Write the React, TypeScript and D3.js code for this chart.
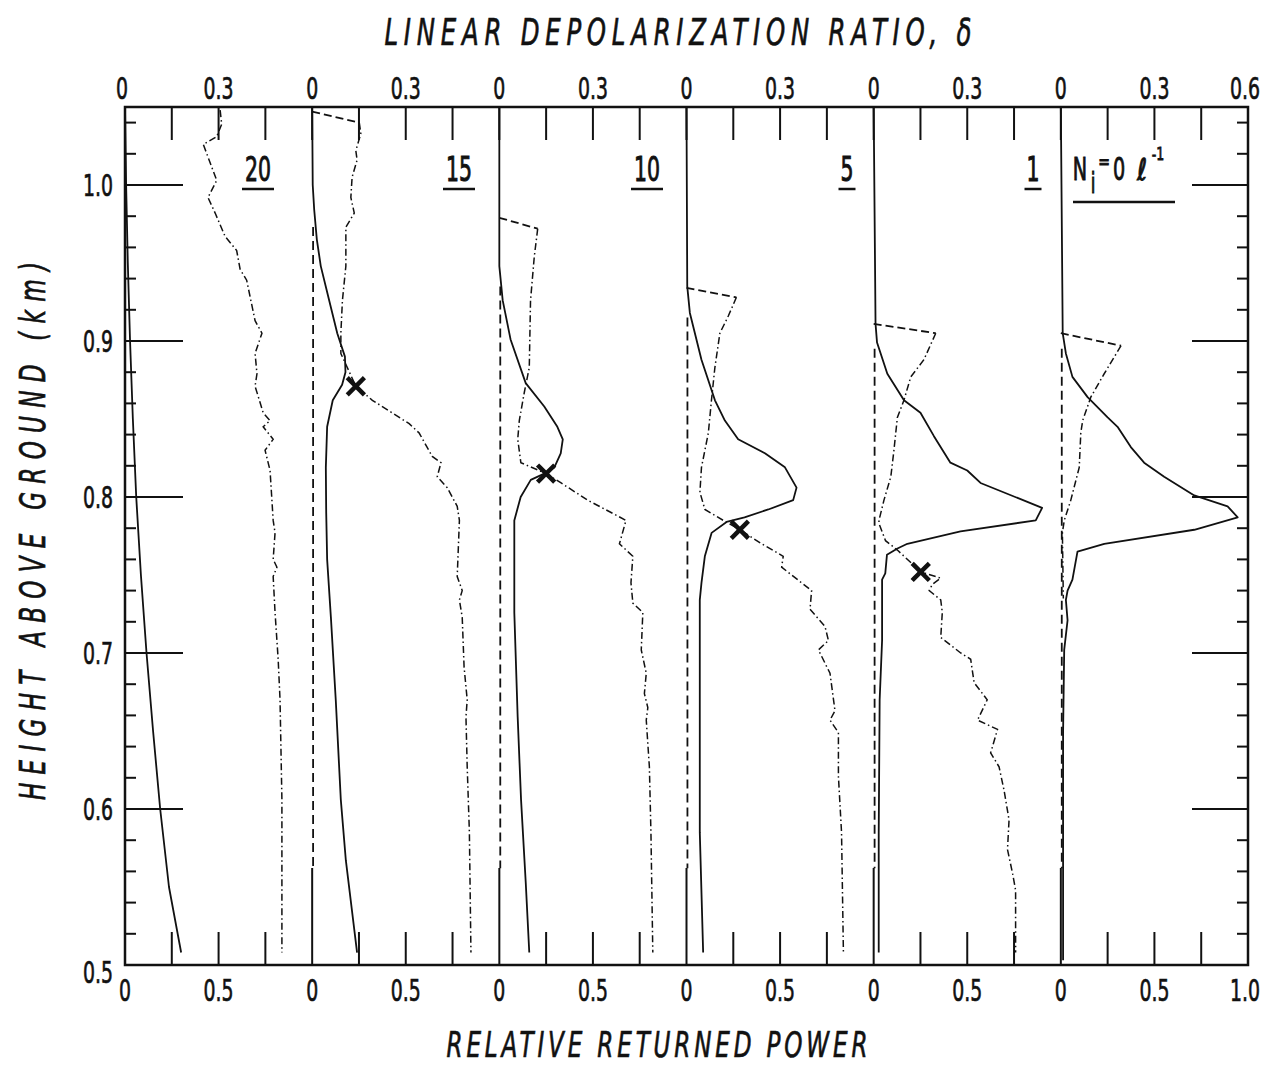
import React from "react";
import * as d3 from "d3";

// ---- data (height km, value) ----
const panelLabels = ["20", "15", "10", "5", "1"];
const heightTicks = [0.5, 0.6, 0.7, 0.8, 0.9, 1.0];
const topTickLabels = ["0", "0.3"];
const topEndLabel = "0.6";
const bottomTickLabels = ["0", "0.5"];
const bottomEndLabel = "1.0";

// relative returned power (solid)
const power20: [number, number][] = [[1.05,0],[1.0,0.006],[0.95,0.015],[0.9,0.027],[0.85,0.042],[0.8,0.06],[0.75,0.085],[0.7,0.115],[0.65,0.15],[0.6,0.188],[0.55,0.235],[0.508,0.3]];
const power15: [number, number][] = [[1.05,0],[1.0,0.003],[0.984,0.011],[0.965,0.025],[0.948,0.046],[0.926,0.091],[0.905,0.134],[0.89,0.175],[0.88,0.178],[0.872,0.16],[0.862,0.11],[0.845,0.08],[0.819,0.073],[0.79,0.075],[0.76,0.08],[0.723,0.1],[0.67,0.126],[0.606,0.153],[0.567,0.18],[0.508,0.24]];
const power10: [number, number][] = [[1.05,0],[0.948,0.0],[0.926,0.018],[0.901,0.06],[0.873,0.141],[0.858,0.24],[0.845,0.31],[0.837,0.339],[0.828,0.328],[0.819,0.294],[0.815,0.24],[0.811,0.168],[0.8,0.114],[0.785,0.08],[0.726,0.08],[0.659,0.098],[0.606,0.116],[0.553,0.141],[0.508,0.16]];
const power5: [number, number][] = [[1.05,0],[0.935,0.004],[0.918,0.018],[0.888,0.08],[0.862,0.152],[0.849,0.205],[0.837,0.276],[0.828,0.419],[0.819,0.526],[0.806,0.588],[0.798,0.57],[0.792,0.437],[0.787,0.31],[0.784,0.214],[0.777,0.134],[0.762,0.098],[0.745,0.08],[0.734,0.071],[0.585,0.071],[0.508,0.089]];
const power1: [number, number][] = [[1.05,0],[0.911,0.01],[0.899,0.018],[0.879,0.073],[0.862,0.162],[0.854,0.25],[0.839,0.322],[0.822,0.41],[0.817,0.5],[0.809,0.571],[0.793,0.9],[0.785,0.866],[0.778,0.464],[0.77,0.18],[0.767,0.127],[0.763,0.071],[0.751,0.062],[0.747,0.045],[0.708,0.045],[0.67,0.032],[0.585,0.027],[0.508,0.027]];
const power0: [number, number][] = [[1.05,0],[0.905,0.01],[0.892,0.027],[0.877,0.062],[0.864,0.143],[0.851,0.25],[0.845,0.303],[0.832,0.374],[0.822,0.445],[0.813,0.552],[0.801,0.713],[0.794,0.891],[0.787,0.945],[0.779,0.713],[0.77,0.232],[0.765,0.089],[0.747,0.062],[0.74,0.036],[0.734,0.027],[0.721,0.036],[0.702,0.018],[0.649,0.012],[0.503,0.012]];

// linear depolarization ratio (dash-dot)
const delta20: [number, number][] = [[1.048,0.305],[1.039,0.31],[1.031,0.294],[1.026,0.251],[1.003,0.294],[0.992,0.266],[0.982,0.289],[0.967,0.321],[0.958,0.358],[0.946,0.369],[0.939,0.39],[0.913,0.417],[0.905,0.439],[0.892,0.417],[0.879,0.423],[0.871,0.417],[0.854,0.443],[0.849,0.465],[0.845,0.443],[0.837,0.475],[0.83,0.449],[0.817,0.465],[0.785,0.475],[0.777,0.481],[0.76,0.475],[0.755,0.487],[0.749,0.475],[0.726,0.481],[0.696,0.491],[0.67,0.497],[0.606,0.503],[0.508,0.503]];
const delta15: [number, number][] = [[1.04,0.151],[1.033,0.156],[1.022,0.14],[1.016,0.144],[1.005,0.128],[0.992,0.124],[0.982,0.135],[0.973,0.108],[0.948,0.108],[0.926,0.097],[0.905,0.092],[0.892,0.092],[0.871,0.14],[0.862,0.193],[0.847,0.311],[0.841,0.343],[0.826,0.385],[0.822,0.413],[0.813,0.401],[0.806,0.433],[0.794,0.465],[0.785,0.472],[0.749,0.465],[0.74,0.481],[0.734,0.472],[0.723,0.481],[0.691,0.487],[0.67,0.497],[0.659,0.493],[0.627,0.497],[0.585,0.504],[0.508,0.509]];
const delta10: [number, number][] = [[0.972,0.123],[0.954,0.112],[0.926,0.1],[0.883,0.096],[0.867,0.08],[0.849,0.064],[0.837,0.059],[0.822,0.069],[0.815,0.15],[0.809,0.198],[0.798,0.283],[0.785,0.406],[0.77,0.385],[0.762,0.428],[0.745,0.422],[0.732,0.428],[0.726,0.46],[0.702,0.455],[0.687,0.471],[0.674,0.465],[0.665,0.476],[0.657,0.471],[0.627,0.481],[0.585,0.486],[0.508,0.492]];
const delta5: [number, number][] = [[0.928,0.16],[0.916,0.134],[0.905,0.107],[0.883,0.091],[0.862,0.08],[0.841,0.07],[0.819,0.048],[0.803,0.043],[0.792,0.059],[0.785,0.118],[0.779,0.171],[0.77,0.241],[0.762,0.31],[0.755,0.305],[0.74,0.401],[0.728,0.396],[0.717,0.444],[0.708,0.455],[0.702,0.423],[0.687,0.46],[0.663,0.476],[0.657,0.46],[0.649,0.487],[0.621,0.487],[0.585,0.497],[0.508,0.503]];
const delta1: [number, number][] = [[0.905,0.199],[0.888,0.161],[0.877,0.119],[0.862,0.097],[0.851,0.076],[0.83,0.065],[0.813,0.055],[0.798,0.033],[0.785,0.017],[0.783,0.017],[0.772,0.038],[0.766,0.076],[0.758,0.119],[0.752,0.151],[0.748,0.215],[0.744,0.188],[0.74,0.178],[0.734,0.215],[0.726,0.22],[0.71,0.215],[0.7,0.279],[0.696,0.311],[0.681,0.322],[0.67,0.364],[0.657,0.333],[0.651,0.397],[0.636,0.375],[0.627,0.402],[0.612,0.418],[0.593,0.434],[0.574,0.429],[0.559,0.445],[0.548,0.455],[0.508,0.455]];
const delta0: [number, number][] = [[0.897,0.193],[0.879,0.139],[0.864,0.096],[0.849,0.07],[0.841,0.064],[0.819,0.059],[0.798,0.032],[0.785,0.011],[0.777,0.005],[0.735,0.008]];

// cloud-top height where the delta trace starts from zero (dashed join)
const cloudTop: (number | null)[] = [null, 1.047, 0.979, 0.934, 0.911, 0.905];
// start height of dashed near-zero line
const perpStart: (number | null)[] = [null, 0.973, 0.935, 0.915, 0.895, 0.895];
const perpEnd = 0.562;
// X markers [height, delta]
const crosses: ([number, number] | null)[] = [null, [0.871, 0.14], [0.815, 0.15], [0.779, 0.171], [0.752, 0.151], null];

const powers = [power20, power15, power10, power5, power1, power0];
const deltas = [delta20, delta15, delta10, delta5, delta1, delta0];

// ---- geometry ----
const LEFT = 125, RIGHT = 1248, TOP = 107, BOTTOM = 965;
const yScale = d3.scaleLinear().domain([0.5, 1.05]).range([BOTTOM, TOP]);
const panelX = d3.scaleLinear().domain([0, 6]).range([LEFT, RIGHT]);
const pScale = (i: number) => d3.scaleLinear().domain([0, 1]).range([panelX(i), panelX(i + 1)]);
const dScale = (i: number) => d3.scaleLinear().domain([0, 0.6]).range([panelX(i), panelX(i + 1)]);

const FONT = "DejaVu Sans, Liberation Sans, sans-serif";
const INK = "#111";

function T(props: {
  x: number; y: number; size?: number; sx?: number; anchor?: string; italic?: boolean;
  rotate?: number; len?: number; sw?: number; children: React.ReactNode;
}) {
  const { x, y, size = 30, sx = 0.63, anchor = "middle", italic = false, rotate = 0, len, sw = 0.7, children } = props;
  return (
    <text
      transform={`translate(${x},${y}) rotate(${rotate}) scale(${sx},1)`}
      fontSize={size}
      fontFamily={FONT}
      fontStyle={italic ? "italic" : "normal"}
      textAnchor={anchor as any}
      textLength={len ? len / sx : undefined}
      lengthAdjust={len ? "spacing" : undefined}
      fill={INK}
      stroke={INK}
      strokeWidth={sw}
    >
      {children}
    </text>
  );
}

export default function App() {
  const minorTicks = d3.range(26, 53).map((k) => k / 50).filter((v) => Math.abs(v * 10 - Math.round(v * 10)) > 1e-6);
  const stroke = INK;

  return (
    <svg width={1282} height={1067} style={{ position: "absolute", left: 0, top: 0, background: "#fff" }}>
      <rect x={0} y={0} width={1282} height={1067} fill="#fff" />

      {/* titles */}
      <T x={678} y={45} size={37} sx={0.66} italic len={587}>LINEAR DEPOLARIZATION RATIO, δ</T>
      <T x={657} y={1057} size={35} sx={0.66} italic len={421}>RELATIVE RETURNED POWER</T>
      <T x={45} y={531} size={35} sx={0.66} italic rotate={-90} len={538}>HEIGHT ABOVE GROUND (km)</T>

      {/* frame */}
      <rect x={LEFT} y={TOP} width={RIGHT - LEFT} height={BOTTOM - TOP} fill="none" stroke={stroke} strokeWidth={2.5} />

      {/* height ticks */}
      {heightTicks.map((v) => (
        <g key={"h" + v}>
          {v > 0.5 && <line x1={LEFT} x2={LEFT + 58} y1={yScale(v)} y2={yScale(v)} stroke={stroke} strokeWidth={2} />}
          {v > 0.5 && <line x1={RIGHT} x2={RIGHT - 56} y1={yScale(v)} y2={yScale(v)} stroke={stroke} strokeWidth={2} />}
          <T x={113} y={yScale(v) + (v === 0.5 ? 18 : 11)} anchor="end">{v.toFixed(1)}</T>
        </g>
      ))}
      {minorTicks.map((v) => (
        <g key={"m" + v}>
          <line x1={LEFT} x2={LEFT + 11} y1={yScale(v)} y2={yScale(v)} stroke={stroke} strokeWidth={2} />
          <line x1={RIGHT} x2={RIGHT - 11} y1={yScale(v)} y2={yScale(v)} stroke={stroke} strokeWidth={2} />
        </g>
      ))}

      {/* top / bottom ticks and labels */}
      {d3.range(6).map((i) => (
        <g key={"p" + i}>
          {d3.range(4).map((k) => {
            const x = panelX(i + k / 4);
            if (i === 0 && k === 0) return null;
            return (
              <g key={k}>
                <line x1={x} x2={x} y1={TOP} y2={TOP + 33} stroke={stroke} strokeWidth={2} />
                <line x1={x} x2={x} y1={BOTTOM} y2={BOTTOM - (k === 0 ? 97 : 33)} stroke={stroke} strokeWidth={2} />
              </g>
            );
          })}
          <T x={panelX(i) - (i === 0 ? 3 : 0)} y={99}>{topTickLabels[0]}</T>
          <T x={panelX(i + 0.5)} y={99}>{topTickLabels[1]}</T>
          <T x={panelX(i)} y={1001}>{bottomTickLabels[0]}</T>
          <T x={panelX(i + 0.5)} y={1001}>{bottomTickLabels[1]}</T>
        </g>
      ))}
      <T x={panelX(6) - 3} y={99}>{topEndLabel}</T>
      <T x={panelX(6) - 3} y={1001}>{bottomEndLabel}</T>

      {/* panels */}
      {d3.range(6).map((i) => {
        const ps = pScale(i);
        const ds = dScale(i);
        const pLine = d3.line<[number, number]>().x((d) => ps(d[1])).y((d) => yScale(d[0]));
        const dLine = d3.line<[number, number]>().x((d) => ds(d[1])).y((d) => yScale(d[0]));
        const ct = cloudTop[i];
        const first = deltas[i][0];
        const pst = perpStart[i];
        const cr = crosses[i];
        return (
          <g key={"c" + i}>
            {pst !== null && (
              <line x1={ps(0.005)} x2={ps(0.005)} y1={yScale(pst)} y2={yScale(perpEnd)} stroke={stroke} strokeWidth={1.8} strokeDasharray="9,5" />
            )}
            <path d={pLine(powers[i]) || ""} fill="none" stroke={stroke} strokeWidth={1.8} strokeLinejoin="round" />
            {ct !== null && (
              <line x1={ds(0)} y1={yScale(ct)} x2={ds(first[1])} y2={yScale(first[0])} stroke={stroke} strokeWidth={1.8} strokeDasharray="8,4" />
            )}
            <path d={dLine(deltas[i]) || ""} fill="none" stroke={stroke} strokeWidth={1.5} strokeDasharray="7,3,1.5,3" />
            {cr && (
              <g transform={`translate(${ds(cr[1])},${yScale(cr[0])})`} stroke={stroke} strokeWidth={4.5} strokeLinecap="square">
                <line x1={-7} y1={-7} x2={7} y2={7} />
                <line x1={-7} y1={7} x2={7} y2={-7} />
              </g>
            )}
          </g>
        );
      })}

      {/* concentration labels */}
      {panelLabels.map((lab, i) => {
        const cx = [258, 459, 647, 847, 1033][i];
        const w = lab.length * 15 + 2;
        return (
          <g key={"l" + i}>
            <T x={cx} y={181} size={33} sx={0.62} sw={1}>{lab}</T>
            <line x1={cx - w / 2} x2={cx + w / 2} y1={189} y2={189} stroke={stroke} strokeWidth={2.5} />
          </g>
        );
      })}
      <T x={1080} y={180} size={32} sx={0.6} sw={1}>N</T>
      <T x={1093} y={193} size={28} sx={0.6} sw={1}>i</T>
      <T x={1104} y={168} size={20} sx={0.7} sw={1}>=</T>
      <T x={1119} y={180} size={32} sx={0.6} sw={1}>0</T>
      <T x={1142} y={180} size={30} sx={0.8} sw={1} italic>ℓ</T>
      <T x={1158} y={160} size={18} sx={0.7} sw={0.8}>-1</T>
      <line x1={1073} x2={1175} y1={202} y2={202} stroke={stroke} strokeWidth={2.5} />
    </svg>
  );
}
